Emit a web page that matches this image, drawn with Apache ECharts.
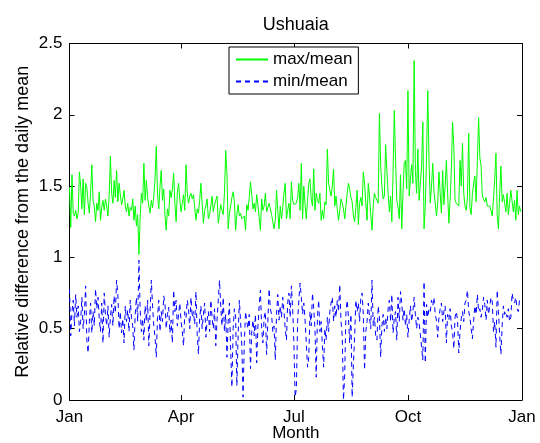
<!DOCTYPE html>
<html>
<head>
<meta charset="utf-8">
<script src="https://cdn.jsdelivr.net/npm/echarts@6/dist/echarts.min.js"></script>
<style>
html,body{margin:0;padding:0;background:#fff;}
#chart{width:540px;height:443px;}
</style>
</head>
<body>
<div id="chart"></div>
<script>
// Daily ratio of max and min to the daily mean, day index 0..364
const maxMean = [
1.49,1.21,1.58,1.31,1.29,1.33,1.27,1.31,1.60,1.50,1.34,1.55,1.30,1.52,1.49,1.38,1.31,1.45,1.65,1.40,
1.36,1.25,1.38,1.33,1.46,1.26,1.35,1.40,1.33,1.41,1.36,1.29,1.44,1.71,1.45,1.38,1.54,1.42,1.61,1.39,
1.52,1.44,1.37,1.41,1.47,1.36,1.32,1.38,1.29,1.35,1.33,1.41,1.26,1.36,1.22,1.30,1.02,1.28,1.45,1.38,
1.66,1.40,
1.54,1.42,1.36,1.31,1.40,1.35,1.43,1.55,1.78,1.45,1.34,1.50,1.61,1.40,1.48,1.30,1.19,1.34,1.29,1.47,
1.42,1.48,1.59,1.38,1.25,1.46,1.52,1.40,1.32,1.38,1.44,1.33,1.65,1.45,1.38,1.43,1.45,1.41,1.44,1.35,
1.26,1.34,1.31,1.40,1.52,1.51,1.24,1.33,1.36,1.41,1.27,1.30,1.36,1.43,1.32,1.37,1.40,1.43,1.24,1.30,
1.37,1.33,
1.30,1.45,1.75,1.59,1.20,1.31,1.36,1.42,1.46,1.39,1.19,1.30,1.37,1.29,1.31,1.27,1.26,1.29,1.19,1.37,
1.33,1.42,1.53,1.44,1.34,1.38,1.32,1.44,1.37,1.28,1.19,1.41,1.33,1.36,1.45,1.32,1.35,1.38,1.39,1.30,
1.25,1.20,1.26,1.47,1.33,1.20,1.36,1.27,1.35,1.45,1.52,1.27,1.33,1.38,1.27,1.53,1.40,1.37,1.37,1.38,
1.42,1.52,1.33,
1.66,1.27,1.50,1.37,1.27,1.40,1.52,1.55,1.41,1.36,1.62,1.33,1.45,1.40,1.38,1.45,1.26,1.33,1.27,1.39,
1.37,1.76,1.52,1.47,1.43,1.50,1.62,1.36,1.43,1.34,1.26,1.33,1.41,1.38,1.34,1.27,1.36,1.45,1.52,1.48,
1.42,1.39,1.29,1.25,1.35,1.47,1.23,1.38,1.42,1.36,1.60,1.52,1.38,1.26,1.52,1.43,1.30,1.19,1.36,1.45,
1.42,1.40,1.38,
2.01,1.64,1.50,1.41,1.43,1.79,1.61,1.45,1.32,1.43,1.25,1.60,2.03,1.68,1.40,1.35,1.27,1.58,1.20,1.45,
1.66,1.68,1.48,2.17,1.43,1.55,1.65,1.52,2.38,1.61,1.45,1.76,1.40,1.52,1.64,1.95,1.20,1.36,1.70,2.17,
1.68,1.38,1.50,1.66,1.46,1.38,1.29,1.38,1.60,1.45,1.31,1.61,1.37,1.50,1.68,1.45,1.24,1.40,1.61,1.95,
1.78,1.40,1.38,
1.37,1.36,1.68,1.50,1.80,1.45,1.36,1.33,1.42,1.87,1.35,1.30,1.45,1.52,1.57,1.39,1.68,1.98,1.70,1.64,
1.43,1.44,1.39,1.42,1.36,1.37,1.36,1.33,1.29,1.41,1.55,1.73,1.29,1.20,1.45,1.64,1.39,1.44,1.38,1.32,
1.45,1.30,1.38,1.47,1.47,1.32,1.40,1.26,1.47,1.30,1.36,1.32
];
const minMean = [
0.78,0.45,0.62,0.70,0.52,0.74,0.58,0.66,0.48,0.55,0.72,0.50,0.60,0.80,0.42,0.33,0.55,0.68,0.47,0.62,
0.52,0.78,0.64,0.72,0.57,0.48,0.68,0.40,0.75,0.60,0.52,0.66,0.44,0.58,0.67,0.52,0.73,0.61,0.84,0.74,
0.50,0.62,0.47,0.57,0.40,0.66,0.55,0.63,0.48,0.70,0.58,0.52,0.35,0.60,0.72,0.55,0.98,0.63,0.48,0.57,
0.42,0.66,
0.55,0.70,0.38,0.62,0.84,0.66,0.52,0.44,0.30,0.58,0.70,0.48,0.62,0.55,0.73,0.68,0.50,0.60,0.65,0.47,
0.56,0.40,0.77,0.62,0.70,0.52,0.60,0.68,0.55,0.48,0.38,0.62,0.58,0.70,0.64,0.50,0.72,0.58,0.62,0.53,
0.76,0.46,0.32,0.57,0.66,0.50,0.60,0.68,0.44,0.56,0.62,0.48,0.70,0.58,0.50,0.64,0.38,0.56,0.70,0.84,
0.66,0.52,
0.72,0.48,0.60,0.30,0.55,0.68,0.35,0.09,0.50,0.64,0.58,0.10,0.45,0.70,0.55,0.38,0.02,0.40,0.62,0.55,
0.50,0.60,0.22,0.48,0.56,0.45,0.60,0.26,0.52,0.66,0.77,0.50,0.40,0.58,0.62,0.32,0.55,0.78,0.64,0.60,
0.48,0.52,0.28,0.60,0.74,0.56,0.66,0.58,0.72,0.62,0.50,0.42,0.68,0.75,0.58,0.80,0.64,0.40,0.02,0.08,
0.55,0.70,0.82,
0.72,0.60,0.68,0.56,0.40,0.23,0.30,0.62,0.52,0.75,0.64,0.50,0.16,0.58,0.70,0.48,0.55,0.38,0.23,0.50,
0.42,0.58,0.48,0.62,0.68,0.72,0.55,0.66,0.58,0.70,0.62,0.81,0.55,0.45,0.00,0.18,0.62,0.70,0.58,0.40,
0.60,0.02,0.25,0.45,0.70,0.62,0.68,0.55,0.72,0.75,0.60,0.21,0.48,0.55,0.68,0.58,0.50,0.84,0.52,0.58,
0.45,0.42,0.66,
0.58,0.30,0.52,0.60,0.48,0.58,0.50,0.64,0.70,0.55,0.74,0.47,0.58,0.62,0.42,0.72,0.55,0.76,0.68,0.56,
0.64,0.52,0.60,0.44,0.56,0.66,0.55,0.62,0.72,0.60,0.50,0.58,0.54,0.46,0.37,0.28,0.83,0.26,0.67,0.58,
0.64,0.62,0.70,0.66,0.72,0.60,0.56,0.44,0.58,0.64,0.68,0.55,0.62,0.66,0.40,0.60,0.56,0.64,0.52,0.48,
0.36,0.58,0.62,
0.56,0.33,0.48,0.57,0.62,0.55,0.68,0.70,0.77,0.62,0.58,0.50,0.43,0.56,0.66,0.60,0.74,0.62,0.64,0.58,
0.63,0.72,0.67,0.56,0.70,0.60,0.66,0.72,0.69,0.48,0.55,0.37,0.77,0.62,0.45,0.32,0.52,0.66,0.60,0.62,
0.58,0.64,0.55,0.58,0.75,0.70,0.68,0.72,0.64,0.62,0.70,0.68
];
const monthTickDays = [0, 90, 181, 273, 365];
const monthTickLabels = ['Jan', 'Apr', 'Jul', 'Oct', 'Jan'];
const seriesNames = ['max/mean', 'min/mean'];

const FONT = '"Liberation Sans", Arial, Helvetica, sans-serif';
const toPairs = arr => arr.map((v, i) => [i, v]);
const labelFor = v => {
  const k = monthTickDays.indexOf(Math.round(v));
  return k >= 0 ? monthTickLabels[k] : '';
};

const chart = echarts.init(document.getElementById('chart'), null, {renderer: 'canvas'});
const axisLineStyle = {color: '#000', width: 1};
chart.setOption({
  animation: false,
  backgroundColor: '#fff',
  title: {
    text: 'Ushuaia',
    left: 295.75, top: 16, textAlign: 'center', padding: 0,
    textStyle: {fontFamily: FONT, fontSize: 18, fontWeight: 'normal', color: '#000'}
  },
  grid: {left: 69.5, right: 18, top: 43.5, bottom: 43, containLabel: false, outerBoundsMode: 'none'},
  legend: {
    data: seriesNames,
    orient: 'vertical',
    left: 229, top: 47,
    itemWidth: 32, itemHeight: 14, itemGap: 5,
    padding: [4, 6, 4, 6],
    borderColor: '#000', borderWidth: 1, backgroundColor: '#fff',
    selectedMode: false,
    itemStyle: {opacity: 0, borderWidth: 0},
    textStyle: {fontFamily: FONT, fontSize: 17, color: '#000'}
  },
  xAxis: [{
    type: 'value', min: 0, max: 365, position: 'bottom',
    name: 'Month', nameLocation: 'middle', nameGap: 25, nameMoveOverlap: false,
    nameTextStyle: {fontFamily: FONT, fontSize: 17, color: '#000'},
    axisLine: {show: true, onZero: false, lineStyle: axisLineStyle},
    axisTick: {show: true, inside: true, length: 5, customValues: monthTickDays, lineStyle: axisLineStyle},
    axisLabel: {show: true, customValues: monthTickDays, formatter: labelFor, margin: 9,
      fontFamily: FONT, fontSize: 17, color: '#000', showMinLabel: true, showMaxLabel: true},
    splitLine: {show: false}
  }, {
    type: 'value', min: 0, max: 365, position: 'top',
    axisLine: {show: true, onZero: false, lineStyle: axisLineStyle},
    axisTick: {show: true, inside: true, length: 5, customValues: monthTickDays, lineStyle: axisLineStyle},
    axisLabel: {show: false},
    splitLine: {show: false}
  }],
  yAxis: [{
    type: 'value', min: 0, max: 2.5, interval: 0.5, position: 'left',
    name: 'Relative difference from the daily mean', nameLocation: 'middle', nameGap: 37,
    nameRotate: 90, nameMoveOverlap: false,
    nameTextStyle: {fontFamily: FONT, fontSize: 18, color: '#000'},
    axisLine: {show: true, onZero: false, lineStyle: axisLineStyle},
    axisTick: {show: true, inside: true, length: 5, lineStyle: axisLineStyle},
    axisLabel: {show: true, margin: 7, fontFamily: FONT, fontSize: 17, color: '#000',
      showMinLabel: true, showMaxLabel: true},
    splitLine: {show: false}
  }, {
    type: 'value', min: 0, max: 2.5, interval: 0.5, position: 'right',
    axisLine: {show: true, onZero: false, lineStyle: axisLineStyle},
    axisTick: {show: true, inside: true, length: 5, lineStyle: axisLineStyle},
    axisLabel: {show: false},
    splitLine: {show: false}
  }],
  series: [{
    name: seriesNames[0], type: 'line', xAxisIndex: 0, yAxisIndex: 0,
    data: toPairs(maxMean), showSymbol: false, symbol: 'none',
    color: '#00ff00',
    lineStyle: {color: '#00ff00', width: 1}
  }, {
    name: seriesNames[1], type: 'line', xAxisIndex: 0, yAxisIndex: 0,
    data: toPairs(minMean), showSymbol: false, symbol: 'none',
    color: '#0000ff',
    lineStyle: {color: '#0000ff', width: 1, type: [5, 4]}
  }]
});
</script>
</body>
</html>
